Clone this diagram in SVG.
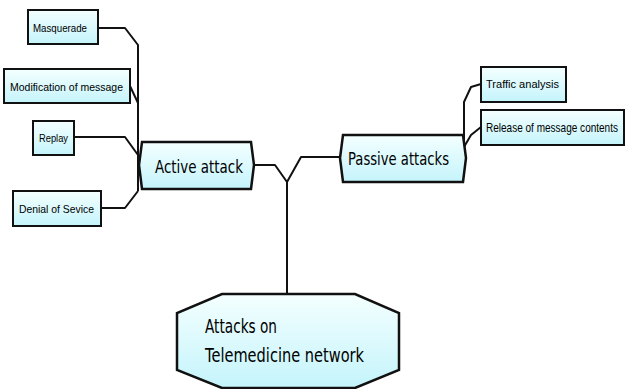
<svg xmlns="http://www.w3.org/2000/svg" width="627" height="389" viewBox="0 0 627 389">
<defs>
<linearGradient id="g" x1="0" y1="0" x2="0" y2="1">
<stop offset="0" stop-color="#f4ffff"/>
<stop offset="1" stop-color="#c4f4fb"/>
</linearGradient>
<style>
.box{fill:url(#g);stroke:#111;stroke-width:2}
.big{fill:url(#g);stroke:#111;stroke-width:2.5}
.c{fill:none;stroke:#111;stroke-width:2;stroke-linejoin:round}
.s{font-family:"Liberation Sans",Arial,sans-serif;font-size:11px;fill:#000}
.m{font-family:"DejaVu Sans",sans-serif;font-size:17px;fill:#000}
.l{font-family:"DejaVu Sans",sans-serif;font-size:19px;fill:#000}
</style>
</defs>
<rect width="627" height="389" fill="#fff"/>
<g id="connectors">
<polyline class="c" points="98,28 125,28 138,45 138,191"/>
<polyline class="c" points="130,86 138,103"/>
<polyline class="c" points="74,137 125,137 138,155"/>
<polyline class="c" points="101,208 125,208 138,191"/>
<polyline class="c" points="254,165 275,165 287,182 287,294"/>
<polyline class="c" points="287,182 301,157 340,157"/>
<polyline class="c" points="481,84 471,87 464,102 464,147 471,135 481,127"/>
</g>
<g id="masquerade"><rect class="box" x="28" y="10" width="70" height="34"/><text class="s" x="33" y="32" textLength="54" lengthAdjust="spacingAndGlyphs">Masquerade</text></g>
<g id="modification"><rect class="box" x="4" y="69" width="126" height="34"/><text class="s" x="10" y="91" textLength="113" lengthAdjust="spacingAndGlyphs">Modification of message</text></g>
<g id="replay"><rect class="box" x="33" y="121" width="41" height="34"/><text class="s" x="39" y="142" textLength="29" lengthAdjust="spacingAndGlyphs">Replay</text></g>
<g id="denial"><rect class="box" x="13" y="191" width="88" height="35"/><text class="s" x="19" y="213" textLength="75" lengthAdjust="spacingAndGlyphs">Denial of Sevice</text></g>
<g id="active"><polygon class="big" points="142,142 251,142 254,165 251,189 142,189 139,165"/><text class="m" x="155" y="173" textLength="88" lengthAdjust="spacingAndGlyphs">Active attack</text></g>
<g id="passive"><polygon class="big" points="343,135 463,135 466,158 463,182 343,182 340,158"/><text class="m" x="348" y="165" textLength="101" lengthAdjust="spacingAndGlyphs">Passive attacks</text></g>
<g id="traffic"><rect class="box" x="481" y="67" width="85" height="35"/><text class="s" x="486" y="88" textLength="73" lengthAdjust="spacingAndGlyphs">Traffic analysis</text></g>
<g id="release"><rect class="box" x="481" y="110" width="143" height="35"/><text class="s" transform="translate(486,132) scale(1.2)" x="0" y="0" font-size="8.6" textLength="110" lengthAdjust="spacingAndGlyphs">Release of message contents</text></g>
<g id="root"><polygon class="big" points="222,294 355,294 399,313 399,370 355,388 222,388 177,370 177,313"/><text class="l" x="205" y="333" textLength="72" lengthAdjust="spacingAndGlyphs">Attacks on</text><text class="l" x="205" y="362" textLength="159" lengthAdjust="spacingAndGlyphs">Telemedicine network</text></g>
</svg>
